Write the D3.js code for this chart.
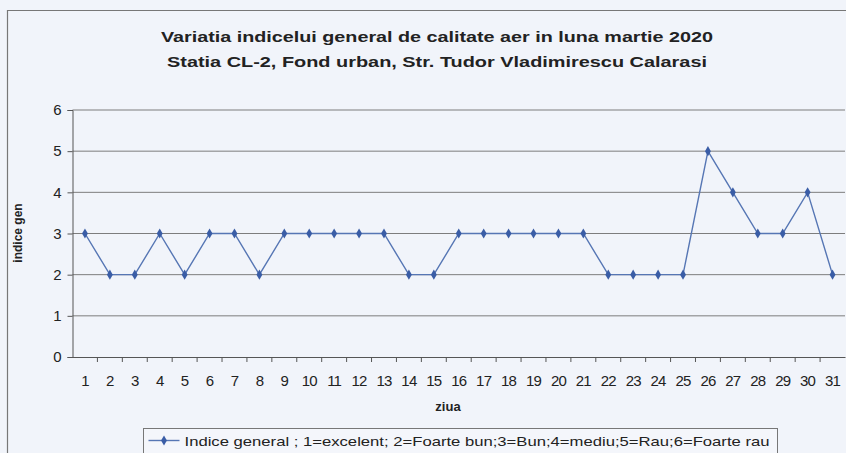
<!DOCTYPE html>
<html lang="ro">
<head>
<meta charset="UTF-8">
<title>Variatia indicelui general de calitate aer</title>
<script src="https://cdnjs.cloudflare.com/ajax/libs/d3/7.8.5/d3.min.js"></script>
<style>
    body { margin: 0; background: #f1f4fa; }
    svg { display: block; font-family: 'Liberation Sans', Arial, sans-serif; }
    .title { font-size: 15px; font-weight: bold; fill: #222; text-anchor: middle; }
    .tick text { font-size: 15px; fill: #222; }
    .axis-label { font-size: 12px; font-weight: bold; fill: #222; }
    .legend-text { font-size: 13px; fill: #222; }
</style>
</head>
<body>
<div id="chart"></div>
<script>
const days = d3.range(1, 32).map(String);
const indexValues = [3, 2, 2, 3, 2, 3, 3, 2, 3, 3, 3, 3, 3, 2, 2, 3, 3, 3, 3, 3, 3, 2, 2, 2, 2, 5, 4, 3, 3, 4, 2];
const yTicks = [0, 1, 2, 3, 4, 5, 6];
const titleLines = [
    "Variatia indicelui general de calitate aer in luna martie 2020",
    "Statia CL-2, Fond urban,  Str. Tudor Vladimirescu Calarasi"
];
const legendLabel = "Indice general ; 1=excelent; 2=Foarte bun;3=Bun;4=mediu;5=Rau;6=Foarte rau";

const W = 846, H = 453;
const margin = {top: 110, right: 1, bottom: 96, left: 72.5};
const width = W - margin.left - margin.right;
const height = H - margin.top - margin.bottom;
const lineColor = "#5676b4";
const markColor = "#3a5da6";

const svg = d3.select("#chart").append("svg")
    .attr("width", W).attr("height", H);

// chart frame (scanned border, top and left)
svg.append("path")
    .attr("d", `M7.5,${H} V10.5 H${W}`)
    .attr("fill", "none").attr("stroke", "#777").attr("stroke-width", 1.2);

svg.selectAll(".title").data(titleLines).enter().append("text")
    .attr("class", "title")
    .attr("x", 437).attr("y", (d, i) => 42 + i * 25)
    .attr("textLength", (d, i) => i === 0 ? 552 : 540)
    .attr("lengthAdjust", "spacingAndGlyphs")
    .text(d => d);

const g = svg.append("g").attr("transform", `translate(${margin.left},${margin.top})`);

const x = d3.scaleBand().domain(days).range([0, width]);
const y = d3.scaleLinear().domain([0, 6]).range([height, 0]);

// gridlines
g.append("g")
    .selectAll("line").data(yTicks.filter(t => t > 0)).enter().append("line")
    .attr("x1", 0).attr("x2", width)
    .attr("y1", d => y(d)).attr("y2", d => y(d))
    .attr("stroke", "#7d7d7d").attr("stroke-width", 1);

// y axis
const yAxis = g.append("g")
    .call(d3.axisLeft(y).tickValues(yTicks).tickSize(5).tickPadding(6).tickFormat(d3.format("d")));
yAxis.select(".domain").attr("stroke", "#555");
yAxis.selectAll(".tick line").attr("stroke", "#555");

// x axis
const xAxis = g.append("g")
    .attr("transform", `translate(0,${height})`)
    .call(d3.axisBottom(x).tickSize(0).tickPadding(18));
xAxis.select(".domain").attr("stroke", "#555");
xAxis.selectAll(".tick text").attr("letter-spacing", "-0.8px");
// ticks between categories
g.append("g").selectAll("line").data(days.slice(1)).enter().append("line")
    .attr("x1", d => x(d)).attr("x2", d => x(d))
    .attr("y1", height).attr("y2", height + 5)
    .attr("stroke", "#555");

svg.append("text").attr("class", "axis-label")
    .attr("transform", "translate(22,233) rotate(-90)")
    .attr("text-anchor", "middle")
    .text("indice gen");

svg.append("text").attr("class", "axis-label")
    .attr("x", 448).attr("y", 411)
    .attr("text-anchor", "middle")
    .style("font-size", "13px")
    .text("ziua");

// series line
const points = days.map((d, i) => ({day: d, v: indexValues[i]}));
g.append("path").datum(points)
    .attr("fill", "none").attr("stroke", lineColor).attr("stroke-width", 1.4)
    .attr("d", d3.line().x(d => x(d.day) + x.bandwidth() / 2).y(d => y(d.v)));

const diamond = d3.symbol().type(d3.symbolDiamond).size(30);
g.selectAll(".pt").data(points).enter().append("path")
    .attr("transform", d => `translate(${x(d.day) + x.bandwidth() / 2},${y(d.v)})`)
    .attr("d", diamond).attr("fill", markColor);

// legend
const lg = svg.append("g").attr("transform", "translate(143.5,428.5)");
lg.append("rect").attr("width", 634).attr("height", 30)
    .attr("fill", "#f4f6fb").attr("stroke", "#777");
lg.append("line").attr("x1", 5).attr("x2", 36).attr("y1", 12).attr("y2", 12)
    .attr("stroke", lineColor).attr("stroke-width", 1.4);
lg.append("path").attr("transform", "translate(20.5,12)").attr("d", diamond).attr("fill", markColor);
lg.append("text").attr("class", "legend-text")
    .attr("x", 41).attr("y", 17)
    .attr("textLength", 585).attr("lengthAdjust", "spacingAndGlyphs")
    .text(legendLabel);
</script>
</body>
</html>
